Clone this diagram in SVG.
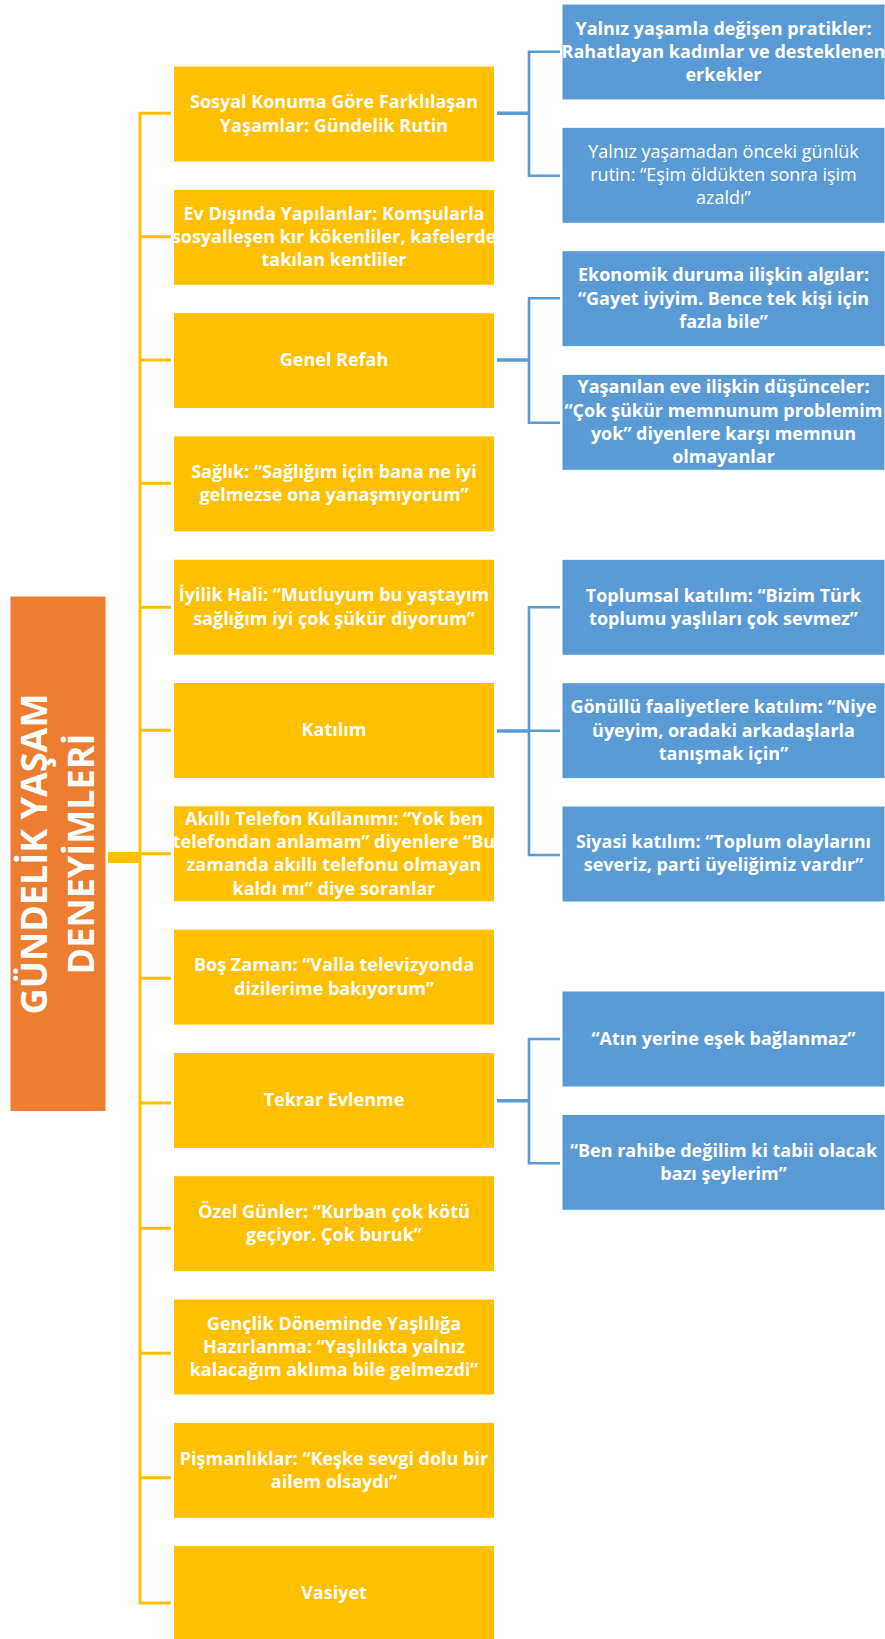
<svg xmlns="http://www.w3.org/2000/svg" width="885" height="1639" viewBox="0 0 885 1639">
<style>
.y{fill:#FFC000;stroke:#ffffff;stroke-width:1}
.b{fill:#5B9BD5;stroke:#ffffff;stroke-width:1}
.o{fill:#ED7D31;stroke:#ffffff;stroke-width:1}
.t{font-family:"Open Sans","Liberation Sans",sans-serif;font-size:18px;font-weight:bold;fill:#ffffff;text-anchor:middle}
.r{font-weight:normal}
.big{font-family:"Open Sans","Liberation Sans",sans-serif;font-size:36px;font-weight:bold;fill:#ffffff;text-anchor:middle}
.cy{fill:none;stroke:#FFC000;stroke-width:3}
.cb{fill:none;stroke:#5B9BD5;stroke-width:2.6}
.cb2{fill:none;stroke:#5B9BD5;stroke-width:3.6}
</style>
<rect width="885" height="1639" fill="#ffffff"/>
<g id="connectors">
<path class="cy" d="M171,113.3 H140 V1603 H171"/>
<path class="cy" d="M140,236.7 H171 M140,360 H171 M140,483.3 H171 M140,607.3 H171 M140,730.3 H171 M140,853.7 H171 M140,978.3 H171 M140,1103 H171 M140,1228.3 H171 M140,1353.3 H171 M140,1477.7 H171"/>
<rect x="108" y="852" width="32" height="11" fill="#FFC000"/>
<path class="cb2" d="M497,113.3 H529 M497,360 H529 M497,731 H529 M497,1100.7 H529"/>
<path class="cb" d="M560,51.7 H529 V175.7 H560 M560,298.3 H529 V422.7 H560 M560,607.3 H529 V855 H560 M529,730.7 H560 M560,1039 H529 V1163.3 H560"/>
</g>
<g id="root">
<rect class="o" x="10" y="596" width="96" height="515.5"/>
<g transform="translate(0,854) rotate(-90)">
<text class="big" x="0" y="47">GÜNDELİK YAŞAM</text>
<text class="big" x="0" y="94">DENEYİMLERİ</text>
</g>
</g>
<g id="n1"><rect class="y" x="173.5" y="66" width="321" height="96"/>
<text class="t" x="334" y="108.3">Sosyal Konuma Göre Farklılaşan</text>
<text class="t" x="334" y="131.5">Yaşamlar: Gündelik Rutin</text></g>
<g id="n2"><rect class="y" x="173.5" y="189.3" width="321" height="96"/>
<text class="t" x="334" y="219.9">Ev Dışında Yapılanlar: Komşularla</text>
<text class="t" x="334" y="243.1">sosyalleşen kır kökenliler, kafelerde</text>
<text class="t" x="334" y="266.3">takılan kentliler</text></g>
<g id="n3"><rect class="y" x="173.5" y="312.6" width="321" height="96"/>
<text class="t" x="334" y="366.4">Genel Refah</text></g>
<g id="n4"><rect class="y" x="173.5" y="435.9" width="321" height="96"/>
<text class="t" x="334" y="478.1">Sağlık: “Sağlığım için bana ne iyi</text>
<text class="t" x="334" y="501.3">gelmezse ona yanaşmıyorum”</text></g>
<g id="n5"><rect class="y" x="173.5" y="559.2" width="321" height="96"/>
<text class="t" x="334" y="601.4">İyilik Hali: “Mutluyum bu yaştayım</text>
<text class="t" x="334" y="624.6">sağlığım iyi çok şükür diyorum”</text></g>
<g id="n6"><rect class="y" x="173.5" y="682.5" width="321" height="96"/>
<text class="t" x="334" y="736.3">Katılım</text></g>
<g id="n7"><rect class="y" x="173.5" y="805.8" width="321" height="96"/>
<text class="t" x="334" y="825">Akıllı Telefon Kullanımı: “Yok ben</text>
<text class="t" x="334" y="848.2">telefondan anlamam” diyenlere “Bu</text>
<text class="t" x="334" y="871.4">zamanda akıllı telefonu olmayan</text>
<text class="t" x="334" y="894.6">kaldı mı” diye soranlar</text></g>
<g id="n8"><rect class="y" x="173.5" y="929.1" width="321" height="96"/>
<text class="t" x="334" y="971.3">Boş Zaman: “Valla televizyonda</text>
<text class="t" x="334" y="994.5">dizilerime bakıyorum”</text></g>
<g id="n9"><rect class="y" x="173.5" y="1052.4" width="321" height="96"/>
<text class="t" x="334" y="1106.2">Tekrar Evlenme</text></g>
<g id="n10"><rect class="y" x="173.5" y="1175.7" width="321" height="96"/>
<text class="t" x="334" y="1217.9">Özel Günler: “Kurban çok kötü</text>
<text class="t" x="334" y="1241.1">geçiyor. Çok buruk”</text></g>
<g id="n11"><rect class="y" x="173.5" y="1299" width="321" height="96"/>
<text class="t" x="334" y="1329.6">Gençlik Döneminde Yaşlılığa</text>
<text class="t" x="334" y="1352.8">Hazırlanma: “Yaşlılıkta yalnız</text>
<text class="t" x="334" y="1376">kalacağım aklıma bile gelmezdi”</text></g>
<g id="n12"><rect class="y" x="173.5" y="1422.3" width="321" height="96"/>
<text class="t" x="334" y="1464.5">Pişmanlıklar: “Keşke sevgi dolu bir</text>
<text class="t" x="334" y="1487.7">ailem olsaydı”</text></g>
<g id="n13"><rect class="y" x="173.5" y="1545.6" width="321" height="96"/>
<text class="t" x="334" y="1599.4">Vasiyet</text></g>
<g id="b1"><rect class="b" x="562" y="4" width="323" height="96"/>
<text class="t" x="723.5" y="34.6">Yalnız yaşamla değişen pratikler:</text>
<text class="t" x="723.5" y="57.8">Rahatlayan kadınlar ve desteklenen</text>
<text class="t" x="723.5" y="81">erkekler</text></g>
<g id="b2"><rect class="b" x="562" y="127.3" width="323" height="96"/>
<text class="t r" x="723.5" y="157.9">Yalnız yaşamadan önceki günlük</text>
<text class="t r" x="723.5" y="181.1">rutin: “Eşim öldükten sonra işim</text>
<text class="t r" x="723.5" y="204.3">azaldı”</text></g>
<g id="b3"><rect class="b" x="562" y="250.7" width="323" height="96"/>
<text class="t" x="723.5" y="281.3">Ekonomik duruma ilişkin algılar:</text>
<text class="t" x="723.5" y="304.5">“Gayet iyiyim. Bence tek kişi için</text>
<text class="t" x="723.5" y="327.7">fazla bile”</text></g>
<g id="b4"><rect class="b" x="562" y="374.3" width="323" height="96"/>
<text class="t" x="723.5" y="393.3">Yaşanılan eve ilişkin düşünceler:</text>
<text class="t" x="723.5" y="416.5">“Çok şükür memnunum problemim</text>
<text class="t" x="723.5" y="439.7">yok” diyenlere karşı memnun</text>
<text class="t" x="723.5" y="462.9">olmayanlar</text></g>
<g id="b5"><rect class="b" x="562" y="559.3" width="323" height="96"/>
<text class="t" x="723.5" y="601.5">Toplumsal katılım: “Bizim Türk</text>
<text class="t" x="723.5" y="624.7">toplumu yaşlıları çok sevmez”</text></g>
<g id="b6"><rect class="b" x="562" y="682.7" width="323" height="96"/>
<text class="t" x="723.5" y="713.3">Gönüllü faaliyetlere katılım: “Niye</text>
<text class="t" x="723.5" y="736.5">üyeyim, oradaki arkadaşlarla</text>
<text class="t" x="723.5" y="759.7">tanışmak için”</text></g>
<g id="b7"><rect class="b" x="562" y="806" width="323" height="96"/>
<text class="t" x="723.5" y="848.2">Siyasi katılım: “Toplum olaylarını</text>
<text class="t" x="723.5" y="871.4">severiz, parti üyeliğimiz vardır”</text></g>
<g id="b8"><rect class="b" x="562" y="991" width="323" height="96"/>
<text class="t" x="723.5" y="1044.8">“Atın yerine eşek bağlanmaz”</text></g>
<g id="b9"><rect class="b" x="562" y="1114.3" width="323" height="96"/>
<text class="t" x="723.5" y="1156.5">“Ben rahibe değilim ki tabii olacak</text>
<text class="t" x="723.5" y="1179.7">bazı şeylerim”</text></g>
</svg>
